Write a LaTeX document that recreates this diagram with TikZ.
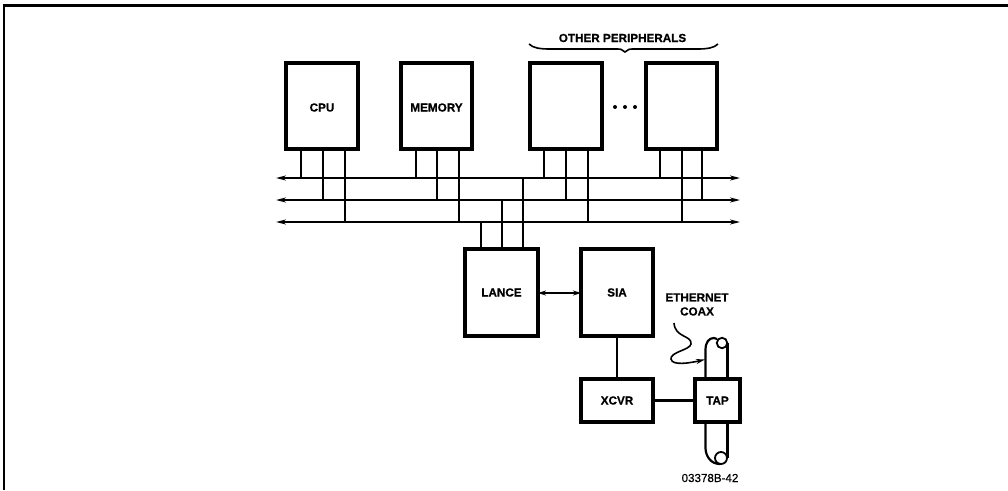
\documentclass[tikz,border=0pt]{standalone}
\usepackage{fontspec}
\setmainfont[BoldFeatures={FakeBold=0.6}]{Liberation Sans}
\newfontfamily\codefont[FakeBold=0.5]{Liberation Sans}
\usetikzlibrary{arrows.meta}
\tikzset{
  blk/.style={draw=black,line width=3.2pt,fill=none,outer sep=0pt,inner sep=0pt,font=\fontsize{11.7}{13}\selectfont\bfseries,align=center},
  blktext/.style={inner sep=0pt,font=\fontsize{11.7}{13}\selectfont\bfseries},
  stub/.style={line width=1.7pt,black},
  busline/.style={line width=1.6pt,black,{Stealth[length=10pt,width=5pt]}-{Stealth[length=10pt,width=5pt]}},
  wire/.style={line width=2.2pt,black},
  lbl/.style={inner sep=0pt,font=\fontsize{11.7}{14}\selectfont\bfseries,align=center},
  frameline/.style={line width=2.2pt,black}
}
\begin{document}
\begin{tikzpicture}[x=1pt,y=-1pt]
\useasboundingbox (0,0) rectangle (1008,490);
\coordinate (fa) at (4,490); \coordinate (fb) at (4,5.5); \coordinate (fc) at (1008,5.5);
\draw[frameline] (fa) -- (fb) -- (fc);

\node[blk,minimum width=72pt,minimum height=86pt,label={[blktext,yshift=-1.5pt]center:CPU}] (cpu) at (322,106) {};
\node[blk,minimum width=71pt,minimum height=86pt,label={[blktext,yshift=-1.5pt]center:MEMORY}] (mem) at (436.5,106) {};
\node[blk,minimum width=72pt,minimum height=86pt] (p1) at (566,106) {};
\node[blk,minimum width=71pt,minimum height=86pt] (p2) at (681.5,106) {};
\node[blk,minimum width=73pt,minimum height=87pt] (lance) at (501.5,292.5) {LANCE};
\node[blk,minimum width=72pt,minimum height=87pt] (sia) at (617,292.5) {SIA};
\node[blk,minimum width=72pt,minimum height=43pt] (xcvr) at (617,400.5) {XCVR};
\node[blk,minimum width=45pt,minimum height=43pt] (tap) at (717.5,400.5) {TAP};

\node[lbl] (other) at (622.5,38) {OTHER PERIPHERALS};
\node[lbl] (eth) at (697,304.5) {ETHERNET\\COAX};
\node[inner sep=0pt,font=\fontsize{11.6}{13}\selectfont\codefont] (code) at (710,478) {03378B-42};

% buses
\coordinate (al) at (276,178); \coordinate (ar) at (740,178);
\coordinate (bl) at (276,200); \coordinate (br) at (740,200);
\coordinate (cl) at (276,222); \coordinate (cr) at (740,222);
\draw[busline] (al) -- (ar);
\draw[busline] (bl) -- (br);
\draw[busline] (cl) -- (cr);

% stubs to the buses
\foreach \n/\xa/\xb/\xc in {cpu/301/323/345, mem/416/437/459, p1/544/566/588}{
  \coordinate (t\n a) at (\xa,178); \coordinate (t\n b) at (\xb,200); \coordinate (t\n c) at (\xc,222);
  \draw[stub] (\n.south -| t\n a) -- (t\n a);
  \draw[stub] (\n.south -| t\n b) -- (t\n b);
  \draw[stub] (\n.south -| t\n c) -- (t\n c);
}
\coordinate (tp2a) at (660,178); \coordinate (tp2b) at (702,200); \coordinate (tp2c) at (682,222);
\draw[stub] (p2.south -| tp2a) -- (tp2a);
\draw[stub] (p2.south -| tp2b) -- (tp2b);
\draw[stub] (p2.south -| tp2c) -- (tp2c);
\coordinate (tla) at (523,178); \coordinate (tlb) at (502,200); \coordinate (tlc) at (481,222);
\draw[stub] (lance.north -| tla) -- (tla);
\draw[stub] (lance.north -| tlb) -- (tlb);
\draw[stub] (lance.north -| tlc) -- (tlc);

% links
\coordinate (ly) at (0,293);
\draw[wire,line width=1.8pt,{Stealth[length=8pt,width=5pt]}-{Stealth[length=8pt,width=5pt]}] (lance.east |- ly) -- (sia.west |- ly);
\draw[wire] (sia.south) -- (xcvr.north);
\draw[wire] (xcvr.east) -- (tap.west);

% dots
\foreach \x/\m in {615/d1,625/d2,635/d3}{\node[circle,fill=black,minimum size=4pt,inner sep=0pt] (\m) at (\x,107) {};}

% brace
\coordinate (ba) at (529,44); \coordinate (bt) at (625,52); \coordinate (bz) at (718,44);
\draw[line width=1.6pt] (ba) .. controls (533,48) and (540,49) .. (550,49) -- (615,49) .. controls (620,49) and (623,49) .. (bt) .. controls (627,49) and (630,49) .. (635,49) -- (697,49) .. controls (707,49) and (714,48) .. (bz);

% coax
\node[circle,draw=black,line width=1.8pt,minimum size=10.5pt,inner sep=0pt] (ct) at (722,343) {};
\node[circle,draw=black,line width=1.8pt,minimum size=12pt,inner sep=0pt] (cb) at (721,458) {};
\coordinate (lx) at (705.5,0); \coordinate (rx) at (727.5,0);
\draw[wire] (tap.north -| lx) -- (705.5,350) .. controls (705.5,342) and (709,338) .. (714,338) -- (717,339);
\draw[wire] (tap.north -| rx) -- (727.5,343);
\draw[wire] (tap.south -| lx) -- (705.5,448) .. controls (705.5,455) and (710,464) .. (720,464);
\draw[wire] (tap.south -| rx) -- (727.5,458);
\coordinate (cs) at (674,323);
\coordinate (ce) at (705,359.5);
\draw[line width=1.6pt,-{Stealth[length=9pt,width=5pt]}] (cs) .. controls (675,338) and (692,335) .. (691,344) .. controls (690,350) and (670,352) .. (671,359) .. controls (672,366) and (690,363) .. (ce);
\end{tikzpicture}
\end{document}
